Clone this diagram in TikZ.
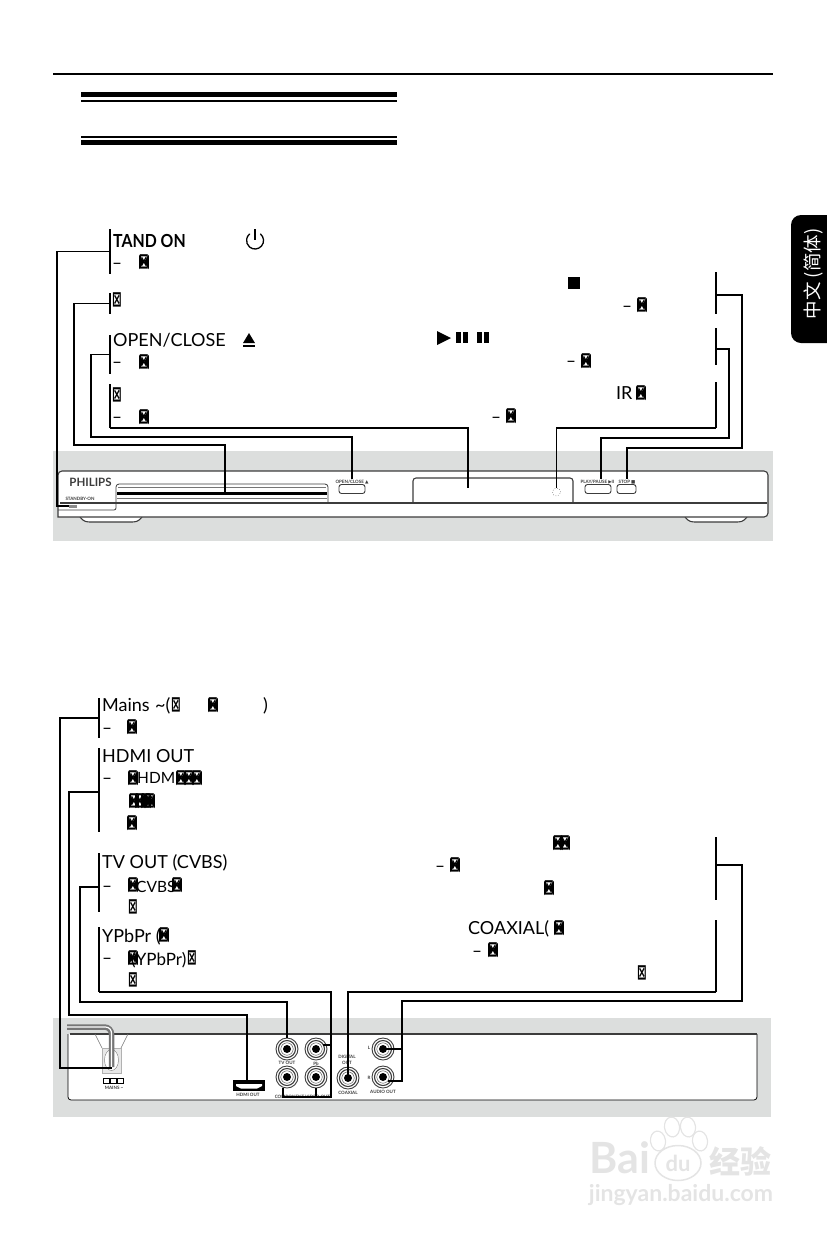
\documentclass[tikz,border=0pt]{standalone}
\usepackage{fontspec}
\setmainfont{Lato}
\newfontfamily\symfont{DejaVu Sans}
\newfontfamily\tofufont[FakeStretch=0.55]{DejaVu Sans}
\newfontfamily\tandfont[FakeStretch=0.88]{Lato}
\newfontfamily\cjkfont{Noto Sans CJK SC}
\usetikzlibrary{positioning, calc, shapes.geometric}
\definecolor{panelGris}{RGB}{220,222,221}
\definecolor{lineaGris}{RGB}{60,60,60}
\definecolor{marcaGris}{RGB}{228,228,228}
\tikzset{
  pd/txt/.style={anchor=base west, inner sep=0pt,
    font=\fontsize{18}{20}\selectfont},
  pd/bold/.style={pd/txt, font=\tandfont\fontsize{18}{20}\selectfont\bfseries},
  pd/dash/.style={anchor=base, yshift=-5.5pt, inner sep=0pt,
    font=\symfont\fontsize{17}{20}\selectfont},
  pd/box/.style={inner sep=0pt, font=\tofufont\bfseries\fontsize{21}{23}\selectfont},
  pd/tofu/.style={pd/box, path picture={
    \fill[black] (path picture bounding box.north west) -- (path picture bounding box.center)
      -- (path picture bounding box.south west) -- cycle;
    \fill[black] (path picture bounding box.north east) -- (path picture bounding box.center)
      -- (path picture bounding box.south east) -- cycle;}},
  pd/brk/.style={rectangle, fill=black, inner sep=0pt, minimum width=1.8pt},
  pd/wire/.style={line width=1.8pt, draw=black},
  pd/bar/.style={rectangle, fill=black, inner sep=0pt, minimum width=316pt},
  pd/dev/.style={draw=lineaGris, line width=1.1pt},
  pd/devtxt/.style={inner sep=0.5pt, text=lineaGris,
    font=\fontsize{4.5}{5}\selectfont\bfseries},
  pd/btn/.style={rectangle, rounded corners=2.5pt, draw=lineaGris, fill=white,
    line width=0.9pt, inner sep=0pt, minimum height=9pt},
  pd/jack/.style={circle, draw=lineaGris, fill=white, line width=0.9pt,
    inner sep=0pt, minimum size=22pt},
  pd/mark/.style={inner sep=0pt, text=marcaGris}
}
\begin{document}
\begin{tikzpicture}[x=1pt, y=-1pt]
  \useasboundingbox (0,0) rectangle (827,1240);

  \node[rectangle, fill=black, inner sep=0pt, minimum width=720pt, minimum height=2.2pt] (toprule) at (413,74) {};
  \node[pd/bar, minimum height=4.6pt] (h1) at (239,94.3) {};
  \node[pd/bar, minimum height=2pt] (h2) at (239,101) {};
  \node[pd/bar, minimum height=2pt] (h3) at (239,137) {};
  \node[pd/bar, minimum height=5pt] (h4) at (239,142.5) {};

  \node[rectangle, fill=black, rounded corners=10pt, inner sep=0pt, minimum width=54pt, minimum height=128pt] (tab) at (818,279) {};
  \node[rotate=90, text=white, inner sep=0pt, font=\cjkfont\fontsize{18.5}{20}\selectfont] (tabtxt) at (813,274) {中文 (简体)};

  % front panel
  \node[rectangle, fill=panelGris, inner sep=0pt, minimum width=720pt, minimum height=90pt] (front) at (413,496) {};
  \draw[pd/dev, fill=white] (80,517) .. controls (84,522) and (86,522) .. (92,522) -- (130,522) .. controls (136,522) and (138,522) .. (142,517);
  \draw[pd/dev, fill=white] (685,517) .. controls (689,522) and (691,522) .. (697,522) -- (735,522) .. controls (741,522) and (743,522) .. (747,517);
  \draw[pd/dev, fill=white] (58,517) -- (58,476) [rounded corners=4pt] -- (58,471) -- (768,471) -- (768,517) [sharp corners] -- cycle;
  \draw[draw=lineaGris, line width=1.4pt] (60,503) -- (767,503);
  \draw[pd/dev, line width=0.8pt, rounded corners=3pt] (116,503) -- (116,484) -- (328,484) -- (328,503);
  \draw[draw=lineaGris!70, line width=0.5pt] (117,498) -- (327,498);
  \draw[draw=lineaGris!70, line width=0.5pt] (118,487) -- (326,487);
  \draw[pd/dev, line width=0.8pt, rounded corners=2pt] (116,503) -- (116,510) -- (58,510);
  \node[rectangle, fill=black, inner sep=0pt, minimum width=210pt, minimum height=2.2pt] (slot) at (222,493.5) {};
  \coordinate (slotc) at (225,493);
  \node[inner sep=0pt, text=lineaGris, font=\fontsize{11.5}{12}\selectfont\bfseries] (logo) at (90.5,482) {PHILIPS};
  \node[pd/devtxt] (standby) at (80,499) {STANDBY·ON};
  \node[rectangle, fill=lineaGris!60, inner sep=0pt, minimum width=8pt, minimum height=3pt] (led) at (73,506) {};
  \node[pd/devtxt] (opentxt) at (352,482) {OPEN/CLOSE {\symfont▲}};
  \node[pd/btn, minimum width=26pt] (openbtn) at (352,489) {};
  \draw[pd/dev, rounded corners=3pt] (413,503) -- (413,478) -- (573,478) -- (573,503);
  \coordinate (dispc) at (468,488);
  \node[circle, draw=lineaGris, dotted, line width=0.5pt, inner sep=0pt, minimum size=8pt] (ir) at (556.5,492) {};
  \node[pd/devtxt] (playtxt) at (597.5,482) {PLAY/PAUSE {\symfont▶}II};
  \node[pd/btn, minimum width=26pt] (playbtn) at (598,489) {};
  \node[pd/devtxt] (stoptxt) at (627,482) {STOP {\symfont■}};
  \node[pd/btn, minimum width=19pt] (stopbtn) at (626.5,489) {};

  % rear panel
  \node[rectangle, fill=panelGris, inner sep=0pt, minimum width=718pt, minimum height=99pt] (rear) at (412,1067.5) {};
  \draw[fill=white, draw=none] (68,1034) rectangle (757,1100);
  \draw[draw=black, line width=0.8pt, rounded corners=3pt] (68,1034) -- (68,1100) -- (757,1100) -- (757,1034);
  \draw[draw=lineaGris, line width=1.8pt] (70,1034) -- (757,1034);

  \draw[draw=lineaGris!40, fill=lineaGris!12, line width=0.6pt] (102,1048) rectangle (121,1073);
  \draw[draw=lineaGris!70, line width=0.6pt] (95,1034) -- (102,1048);
  \draw[draw=lineaGris!70, line width=0.6pt] (128,1034) -- (121,1048);
  \node[ellipse, draw=lineaGris!70, fill=white, inner sep=0pt, minimum width=14pt, minimum height=21pt] at (111.5,1060) (plug) {};
  \draw[draw=lineaGris!70, line width=5.5pt, rounded corners=7pt] (67,1027) -- (111.5,1027) -- (111.5,1067);
  \draw[draw=white, line width=1.2pt, rounded corners=6pt] (67,1027) -- (111.5,1027) -- (111.5,1067);
  \foreach \x in {103,110,117}
    \draw[draw=black, fill=white, line width=0.7pt] (\x,1078) rectangle ++(6,5);
  \node[pd/devtxt] (mainstxt) at (114,1088) {MAINS \textasciitilde};
  \node[rectangle, fill=black, inner sep=0pt, minimum width=32pt, minimum height=11pt] (hdmi) at (249,1085.5) {};
  \draw[fill=white, draw=none] (236,1084) -- (262,1084) -- (262,1086) -- (257,1088.5) -- (241,1088.5) -- (236,1086) -- cycle;
  \node[pd/devtxt] (hdmitxt) at (248,1095) {HDMI OUT};
  \foreach \n/\x/\y in {jtv/287/1049, jpb/316/1049, jy/287/1077, jpr/316/1077,
                        jc/348/1078, jl/383/1049, jr/383/1077}{
    \node[pd/jack] (\n) at (\x,\y) {};
    \draw[draw=lineaGris, line width=1.1pt] (\n) circle (8.5);
    \draw[draw=lineaGris, line width=0.4pt] (\n) circle (6.2);
    \fill[black] (\n) circle (4);
  }
  \node[pd/devtxt, below=0.5pt of jtv] (tvtxt) {TV OUT};
  \node[pd/devtxt, below=0.5pt of jpb] (pbtxt) {Pb};
  \node[pd/devtxt] (digtxt) at (347,1057) {DIGITAL};
  \node[pd/devtxt] (outtxt) at (347,1063) {OUT};
  \node[pd/devtxt, below=1pt of jc] (coaxtxt) {COAXIAL};
  \node[pd/devtxt, below=1pt of jr] (audtxt) {AUDIO OUT};
  \node[pd/devtxt] (ltxt) at (369,1048) {L};
  \node[pd/devtxt] (rtxt) at (369,1078) {R};
  \node[pd/devtxt] (comptxt) at (302.5,1097) {COMPONENT VIDEO OUT};

  % labels, front
  \node[pd/bold] (t1) at (113,247) {TAND ON};
  \draw[line width=1.3pt, line cap=round] (260.5,234) arc (-50:230:8.5);
  \draw[line width=1.3pt] (255,229) -- (255,240);
  \node[pd/dash] (d1) at (117,263) {–};
  \node[pd/tofu] (x1) at (144,262) {⊠};
  \node[pd/box] (x2) at (117,300) {⊠};
  \node[pd/txt] (t2) at (113,346) {OPEN/CLOSE};
  \fill[black] (243,343) -- (255,343) -- (249,333) -- cycle;
  \fill[black] (243,345) rectangle (255,347);
  \node[pd/dash] (d2) at (117,362) {–};
  \node[pd/tofu] (x3) at (144,362) {⊠};
  \node[pd/box] (x4) at (117,395) {⊠};
  \node[pd/dash] (d3) at (117,417) {–};
  \node[pd/tofu] (x5) at (144,417) {⊠};
  \fill[black] (568,277) rectangle (580,289);
  \node[pd/dash] (d4) at (627,306) {–};
  \node[pd/tofu] (x6) at (642,305) {⊠};
  \fill[black] (437,331) -- (451,338) -- (437,345) -- cycle;
  \foreach \x in {456,463,477,484}
    \fill[black] (\x,332) rectangle ++(5,11);
  \node[pd/dash] (d5) at (571,361) {–};
  \node[pd/tofu] (x7) at (586,361) {⊠};
  \node[pd/txt] (t3) at (616,399) {IR};
  \node[pd/tofu] (x8) at (641,393) {⊠};
  \node[pd/dash] (d6) at (496,417) {–};
  \node[pd/tofu] (x9) at (511,416) {⊠};

  % labels, rear
  \node[pd/txt] (t4) at (102,711) {Mains};
  \node[pd/txt] (t5) at (155,711) {\textasciitilde(};
  \node[pd/box] (x10) at (176,705) {⊠};
  \node[pd/tofu] (x11) at (213,705) {⊠};
  \node[pd/txt] (t6) at (263,711) {)};
  \node[pd/dash] (d7) at (107,728) {–};
  \node[pd/tofu] (x12) at (132,727) {⊠};
  \node[pd/txt] (t7) at (102,762) {HDMI OUT};
  \node[pd/dash] (d8) at (107,778) {–};
  \node[pd/tofu] (x13) at (133,778) {⊠};
  \node[pd/txt, font=\fontsize{15.5}{20}\selectfont] (t8) at (137,783) {HDMI};
  \foreach \n/\x in {14/181,15/189,16/197}
    \node[pd/tofu] (x\n) at (\x,778) {⊠};
  \foreach \n/\x in {17/134,18/140,19/146,20/150}
    \node[pd/tofu] (x\n) at (\x,801) {⊠};
  \node[pd/tofu] (x21) at (132,823) {⊠};
  \node[pd/txt] (t9) at (102,868) {TV OUT (CVBS)};
  \node[pd/dash] (d9) at (107,886) {–};
  \node[pd/tofu] (x22) at (133,885) {⊠};
  \node[pd/txt, font=\fontsize{15.5}{20}\selectfont] (t10) at (136,892) {CVBS};
  \node[pd/tofu] (x23) at (177,885) {⊠};
  \node[pd/box] (x24) at (133,907) {⊠};
  \node[pd/txt] (t11) at (102,942) {YPbPr (};
  \node[pd/tofu] (x25) at (164,935) {⊠};
  \node[pd/dash] (d10) at (107,958) {–};
  \node[pd/tofu] (x26) at (133,958) {⊠};
  \node[pd/txt, font=\fontsize{17}{20}\selectfont] (t12) at (131,965) {(YPbPr)};
  \node[pd/box] (x27) at (192,958) {⊠};
  \node[pd/box] (x28) at (133,980) {⊠};
  \node[pd/tofu] (x29) at (558,843) {⊠};
  \node[pd/tofu] (x30) at (565,843) {⊠};
  \node[pd/dash] (d11) at (440,866) {–};
  \node[pd/tofu] (x31) at (455,865) {⊠};
  \node[pd/tofu] (x32) at (549,888) {⊠};
  \node[pd/txt] (t13) at (468,934) {COAXIAL(};
  \node[pd/tofu] (x33) at (559,928) {⊠};
  \node[pd/dash] (d12) at (477,951) {–};
  \node[pd/tofu] (x34) at (493,950) {⊠};
  \node[pd/box] (x35) at (642,973) {⊠};

  % brackets
  \node[pd/brk, minimum height=45pt] (bk1) at (110,251.5) {};
  \node[pd/brk, minimum height=21pt] (bk2) at (110,303.5) {};
  \node[pd/brk, minimum height=39pt] (bk3) at (110,354.5) {};
  \node[pd/brk, minimum height=44pt] (bk4) at (110,406) {};
  \node[pd/brk, minimum height=42pt] (bkA) at (716,293) {};
  \node[pd/brk, minimum height=37pt] (bkB) at (716,346.5) {};
  \node[pd/brk, minimum height=46pt] (bkC) at (716,405) {};
  \node[pd/brk, minimum height=40pt] (bk5) at (99,718) {};
  \node[pd/brk, minimum height=84pt] (bk6) at (99,790) {};
  \node[pd/brk, minimum height=59pt] (bk7) at (99,882.5) {};
  \node[pd/brk, minimum height=65pt] (bk8) at (99,959.5) {};
  \node[pd/brk, minimum height=63pt] (bkD) at (716,868.5) {};
  \node[pd/brk, minimum height=72pt] (bkE) at (716,956) {};

  % connectors
  \draw[pd/wire] (bk1) -| (57,506) -- (led.west);
  \draw[pd/wire] (bk2) -| (74,445) -| (slotc);
  \draw[pd/wire] (bk3) -| (91,437) -| (opentxt.north);
  \draw[pd/wire] (bk4.south) -| (dispc);
  \draw[pd/wire] ([yshift=-2pt]bkA.center) -| (742,448) -| (stoptxt.north);
  \draw[pd/wire] ([yshift=-2.5pt]bkB.center) -| (729,438) -| ([xshift=3.5pt]playtxt.north);
  \draw[pd/wire] (bkC.south) -| (ir.north);
  \draw[pd/wire] (bk5) -| (60,1068) -- ([yshift=-8pt]plug.center);
  \draw[pd/wire] ([yshift=-2pt]bk6.center) -| (69,1015) -| ([xshift=-2pt]hdmi.north);
  \draw[pd/wire] ([yshift=-4.5pt]bk7.center) -| (80,1002) -| (jtv.north);
  \draw[pd/wire] (bk8.south) -| (331,1097) -| ([xshift=-4pt]jy.south);
  \draw[pd/wire] ([shift={(-4pt,4pt)}]jpb.east) -- (331,1045);
  \draw[pd/wire] (jpr.south) -- (316,1097);
  \draw[pd/wire] (bkE.south) -| (jc.center);
  \draw[pd/wire] ([yshift=3.5pt]bkD.center) -| (742,1001) -| (402,1081) -- ([shift={(-6pt,-4pt)}]jr.east);
  \draw[pd/wire] (jl.center) -- (402,1049);

  % watermark
  \node[pd/mark, font=\fontsize{43}{44}\selectfont\bfseries] (wm1) at (620,1158) {Bai};
  \node[ellipse, draw=marcaGris, line width=1.5pt, fill=white, inner sep=0pt, minimum width=46pt, minimum height=35pt, text=marcaGris, font=\fontsize{22}{24}\selectfont\bfseries] (wm2) at (678,1163) {du};
  \foreach \n/\x/\y/\r in {p1/672/1127/8, p2/688/1127/8, p3/658/1141/8, p4/700/1141/8}
    \node[ellipse, draw=marcaGris, line width=1.2pt, inner sep=0pt, minimum width=15pt, minimum height=20pt, rotate=\r] (\n) at (\x,\y) {};
  \node[pd/mark, font=\cjkfont\fontsize{31}{33}\selectfont\bfseries] (wm3) at (740,1161) {经验};
  \node[pd/mark, font=\fontsize{23}{25}\selectfont\bfseries] (wm4) at (681,1195) {jingyan.baidu.com};
\end{tikzpicture}
\end{document}
